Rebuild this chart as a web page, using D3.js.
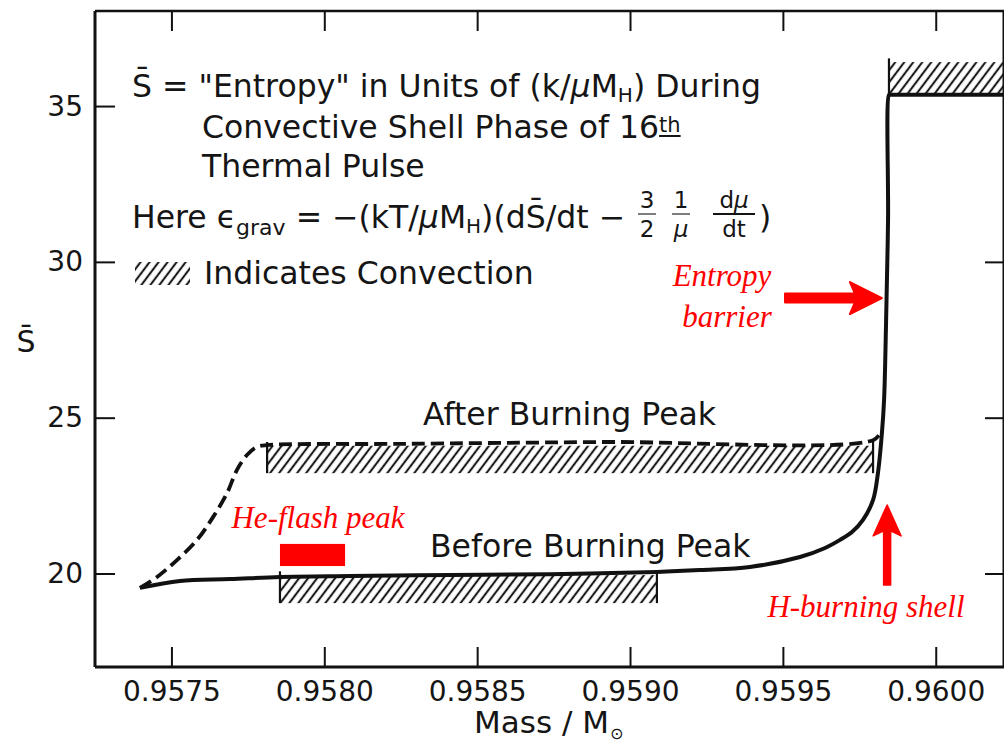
<!DOCTYPE html>
<html>
<head>
<meta charset="utf-8">
<script src="https://cdn.jsdelivr.net/npm/d3@7"></script>
<style>
  html, body { margin: 0; padding: 0; background: #fff; }
  svg { display: block; }
  text { font-family: "DejaVu Sans", sans-serif; fill: #151515; }
  .note { font-family: "Liberation Serif", serif; font-style: italic; fill: #ff0000; }
</style>
</head>
<body>
<svg id="chart" width="1004" height="747"></svg>
<script>
// ---- axis ticks ----
const massTicks = [0.9575, 0.9580, 0.9585, 0.9590, 0.9595, 0.9600];
const entropyTicks = [20, 25, 30, 35];

// ---- entropy profile before the burning peak (solid) ----
const beforeMass = [0.957397, 0.957528, 0.957692, 0.957855, 0.958084, 0.958411, 0.958738,
  0.959088, 0.959229, 0.959392, 0.959556, 0.959638, 0.959687, 0.959726, 0.959762, 0.959795,
  0.959811, 0.959824, 0.959831, 0.959837, 0.959844, 0.959847, 0.959850, 0.960300];
const beforeEntropy = [19.54, 19.76, 19.82, 19.89, 19.92, 19.95, 19.98,
  20.05, 20.11, 20.21, 20.53, 20.82, 21.08, 21.33, 21.72, 22.36,
  23.23, 24.51, 25.57, 27.82, 31.35, 35.36, 35.36, 35.36];

// ---- entropy profile after the burning peak (dashed) ----
const afterMass = [0.957397, 0.957453, 0.957518, 0.957584, 0.957636, 0.957682, 0.957714,
  0.957747, 0.957780, 0.957813, 0.958248, 0.958902, 0.959795, 0.959821];
const afterEntropy = [19.54, 19.89, 20.43, 21.08, 21.81, 22.58, 23.32,
  23.80, 24.06, 24.12, 24.16, 24.22, 24.28, 24.54];

// ---- convective zones (hatched) ----
const zoneMassStart   = [0.957813, 0.957855, 0.959847];
const zoneMassEnd     = [0.959795, 0.959088, 0.960400];
const zoneEntropyLow  = [23.22, 19.05, 35.36];
const zoneEntropyHigh = [24.10, 19.95, 36.41];

// ---- He-flash peak marker ----
const heFlashMass = [0.957855, 0.958068];
const heFlashEntropy = [20.24, 20.95];

(function draw() {
  const svg = d3.select("#chart");
  const pL = 95, pR = 1004, pT = 11, pB = 667;

  const x = d3.scaleLinear().domain([0.95725, 0.96022]).range([pL, 1003]);
  const y = d3.scaleLinear().domain([17.0, 38.05]).range([pB, pT]);

  const defs = svg.append("defs");
  defs.append("pattern")
    .attr("id", "hatch")
    .attr("patternUnits", "userSpaceOnUse")
    .attr("width", 7.2).attr("height", 12)
    .attr("patternTransform", "rotate(37)")
    .append("line")
    .attr("x1", 3.6).attr("y1", -2).attr("x2", 3.6).attr("y2", 14)
    .attr("stroke", "#1a1a1a").attr("stroke-width", 2.1);

  defs.append("clipPath").attr("id", "plotClip")
    .append("rect").attr("x", pL).attr("y", pT).attr("width", pR - pL).attr("height", pB - pT);

  const plot = svg.append("g").attr("clip-path", "url(#plotClip)");

  // hatched convective zones
  const zones = d3.range(zoneMassStart.length).map(i => ({
    m0: zoneMassStart[i], m1: zoneMassEnd[i], s0: zoneEntropyLow[i], s1: zoneEntropyHigh[i]
  }));
  plot.selectAll("rect.zone").data(zones).join("rect")
    .attr("class", "zone")
    .attr("x", d => x(d.m0)).attr("width", d => x(d.m1) - x(d.m0))
    .attr("y", d => y(d.s1)).attr("height", d => y(d.s0) - y(d.s1))
    .attr("fill", "url(#hatch)");
  // zone boundary ticks
  const edges = zones.flatMap(d => [{m: d.m0, s0: d.s0, s1: d.s1 + 0.12}, {m: d.m1, s0: d.s0, s1: d.s1 + 0.12}]);
  plot.selectAll("line.edge").data(edges).join("line")
    .attr("class", "edge")
    .attr("x1", d => x(d.m)).attr("x2", d => x(d.m))
    .attr("y1", d => y(d.s0)).attr("y2", d => y(d.s1))
    .attr("stroke", "#111").attr("stroke-width", 2.2);

  // He-flash peak bar
  plot.append("rect")
    .attr("x", x(heFlashMass[0])).attr("width", x(heFlashMass[1]) - x(heFlashMass[0]))
    .attr("y", y(heFlashEntropy[1])).attr("height", y(heFlashEntropy[0]) - y(heFlashEntropy[1]))
    .attr("fill", "#ff0000");

  // profiles
  const line = d3.line().x(d => x(d[0])).y(d => y(d[1])).curve(d3.curveCatmullRom.alpha(0.5));
  plot.append("path")
    .datum(d3.zip(afterMass, afterEntropy))
    .attr("d", line)
    .attr("fill", "none").attr("stroke", "#111").attr("stroke-width", 3.8)
    .attr("stroke-dasharray", "13,6");
  plot.append("path")
    .datum(d3.zip(beforeMass, beforeEntropy))
    .attr("d", line)
    .attr("fill", "none").attr("stroke", "#111").attr("stroke-width", 4)
    .attr("stroke-linejoin", "round");

  // ---- frame and ticks ----
  const frame = svg.append("g").attr("stroke", "#111").attr("fill", "none");
  frame.append("line").attr("x1", pL).attr("x2", pL).attr("y1", pT).attr("y2", pB).attr("stroke-width", 3);
  frame.append("line").attr("x1", pL).attr("x2", pR).attr("y1", pB).attr("y2", pB).attr("stroke-width", 3);
  frame.append("line").attr("x1", pL).attr("x2", pR).attr("y1", pT).attr("y2", pT).attr("stroke-width", 2.6);
  frame.append("line").attr("x1", 1004).attr("x2", 1004).attr("y1", pT).attr("y2", pB).attr("stroke-width", 3);

  const xAxisB = d3.axisBottom(x).tickValues(massTicks).tickSize(-20).tickPadding(14).tickFormat(d3.format(".4f"));
  const xAxisT = d3.axisTop(x).tickValues(massTicks).tickSize(-20).tickFormat("");
  const yAxisL = d3.axisLeft(y).tickValues(entropyTicks).tickSize(-20).tickPadding(12).tickFormat(d3.format("d"));
  const yAxisR = d3.axisRight(y).tickValues(entropyTicks.filter(v => v < 35)).tickSize(-19).tickFormat("");

  function styleAxis(g) {
    g.select(".domain").remove();
    g.selectAll(".tick line").attr("stroke", "#111").attr("stroke-width", 2);
    g.selectAll(".tick text").attr("fill", "#151515").style("font-family", '"DejaVu Sans", sans-serif');
  }
  svg.append("g").attr("transform", `translate(0,${pB})`).call(xAxisB).call(styleAxis)
    .selectAll(".tick text").style("font-size", "28px").attr("dy", "0.71em");
  svg.append("g").attr("transform", `translate(0,${pT})`).call(xAxisT).call(styleAxis);
  svg.append("g").attr("transform", `translate(${pL},0)`).call(yAxisL).call(styleAxis)
    .selectAll(".tick text").style("font-size", "28px");
  svg.append("g").attr("transform", `translate(1004,0)`).call(yAxisR).call(styleAxis);

  // axis titles
  const xt = svg.append("text").attr("x", 474).attr("y", 733).style("font-size", "31px");
  xt.append("tspan").text("Mass / M");
  xt.append("tspan").text("\u2299").style("font-size", "16px").attr("dx", 1).attr("dy", 6);
  svg.append("text").attr("x", 26).attr("y", 352).attr("text-anchor", "middle")
    .style("font-size", "30px").text("S\u0304");

  // ---- description block ----
  const FS = 31.5;
  const t1 = svg.append("text").attr("x", 132).attr("y", 97).style("font-size", FS + "px");
  t1.append("tspan").text("S\u0304 = \"Entropy\" in Units of (k/");
  t1.append("tspan").text("\u03bc").style("font-style", "italic");
  t1.append("tspan").text("M");
  t1.append("tspan").text("H").style("font-size", "20px").attr("dy", 5);
  t1.append("tspan").text(") During").attr("dy", -5);

  const t2 = svg.append("text").attr("x", 202).attr("y", 138).style("font-size", FS + "px");
  t2.append("tspan").text("Convective Shell Phase of 16");
  const th = t2.append("tspan").text("th").style("font-size", "21px").attr("dy", -6);
  // underline under the ordinal suffix
  {
    const full = t2.node().getComputedTextLength();
    const thLen = th.node().getComputedTextLength();
    svg.append("line").attr("x1", 202 + full - thLen).attr("x2", 202 + full)
      .attr("y1", 136).attr("y2", 136).attr("stroke", "#151515").attr("stroke-width", 2);
  }

  svg.append("text").attr("x", 202).attr("y", 177).style("font-size", FS + "px").text("Thermal Pulse");

  const t4 = svg.append("text").attr("x", 132).attr("y", 228).style("font-size", FS + "px");
  t4.append("tspan").text("Here \u03f5");
  t4.append("tspan").text("grav").style("font-size", "22px").attr("dy", 7);
  t4.append("tspan").text(" = \u2212(kT/").attr("dy", -7);
  t4.append("tspan").text("\u03bc").style("font-style", "italic");
  t4.append("tspan").text("M");
  t4.append("tspan").text("H").style("font-size", "20px").attr("dy", 5);
  t4.append("tspan").text(")(dS\u0304/dt \u2212").attr("dy", -5);
  const endX = 132 + t4.node().getComputedTextLength();

  // stacked fraction: numerator over denominator, with a bar of the given half-width
  function fraction(cx, num, den, half, barW) {
    const g = svg.append("g");
    const a = g.append("text").attr("x", cx).attr("y", 208).attr("text-anchor", "middle").style("font-size", "23px");
    num.forEach(([s, it]) => a.append("tspan").text(s).style("font-style", it ? "italic" : "normal"));
    g.append("line").attr("x1", cx - half).attr("x2", cx + half).attr("y1", 214).attr("y2", 214)
      .attr("stroke", "#151515").attr("stroke-width", barW);
    const b = g.append("text").attr("x", cx).attr("y", 237).attr("text-anchor", "middle").style("font-size", "23px");
    den.forEach(([s, it]) => b.append("tspan").text(s).style("font-style", it ? "italic" : "normal"));
  }
  const f0 = Math.max(647, endX + 14);
  fraction(f0, [["3", false]], [["2", false]], 9, 1.1);
  fraction(f0 + 34, [["1", false]], [["\u03bc", true]], 9, 1.1);
  fraction(f0 + 87, [["d", false], ["\u03bc", true]], [["dt", false]], 21, 2);
  svg.append("text").attr("x", f0 + 112).attr("y", 228).style("font-size", FS + "px").text(")");

  // legend for hatching
  svg.append("rect").attr("x", 135).attr("y", 262).attr("width", 55).attr("height", 23).attr("fill", "url(#hatch)");
  svg.append("text").attr("x", 204).attr("y", 284).style("font-size", FS + "px").text("Indicates Convection");

  // curve labels
  svg.append("text").attr("x", 423).attr("y", 425).style("font-size", FS + "px").text("After Burning Peak");
  svg.append("text").attr("x", 430).attr("y", 557).style("font-size", FS + "px").text("Before Burning Peak");

  // ---- red annotations ----
  svg.append("text").attr("class", "note").attr("x", 318).attr("y", 528).attr("text-anchor", "middle")
    .style("font-size", "31px").text("He-flash peak");
  svg.append("text").attr("class", "note").attr("x", 722).attr("y", 286).attr("text-anchor", "middle")
    .style("font-size", "31px").text("Entropy");
  svg.append("text").attr("class", "note").attr("x", 727).attr("y", 327).attr("text-anchor", "middle")
    .style("font-size", "31px").text("barrier");
  svg.append("text").attr("class", "note").attr("x", 866).attr("y", 617).attr("text-anchor", "middle")
    .style("font-size", "31px").text("H-burning shell");

  // arrow toward the entropy barrier
  {
    const sBar = 28.84;
    const x0 = x(0.959507), tx = x(0.959824), ty = y(sBar);
    const p = d3.path();
    p.moveTo(x0, ty - 4.5); p.lineTo(tx - 27, ty - 4.5); p.lineTo(tx - 32, ty - 16);
    p.lineTo(tx, ty); p.lineTo(tx - 32, ty + 16); p.lineTo(tx - 27, ty + 4.5);
    p.lineTo(x0, ty + 4.5); p.closePath();
    svg.append("path").attr("d", p.toString()).attr("fill", "#ff0000")
      .attr("stroke", "#ff0000").attr("stroke-width", 2).attr("stroke-linejoin", "round");
  }
  // arrow toward the H-burning shell
  {
    const ax = x(0.959841), y0 = y(19.63), tipY = y(22.20);
    const p = d3.path();
    p.moveTo(ax - 3.5, y0); p.lineTo(ax - 3.5, tipY + 26); p.lineTo(ax - 14, tipY + 31);
    p.lineTo(ax, tipY); p.lineTo(ax + 14, tipY + 31); p.lineTo(ax + 3.5, tipY + 26);
    p.lineTo(ax + 3.5, y0); p.closePath();
    svg.append("path").attr("d", p.toString()).attr("fill", "#ff0000")
      .attr("stroke", "#ff0000").attr("stroke-width", 1.5).attr("stroke-linejoin", "round");
  }
})();
</script>
</body>
</html>
